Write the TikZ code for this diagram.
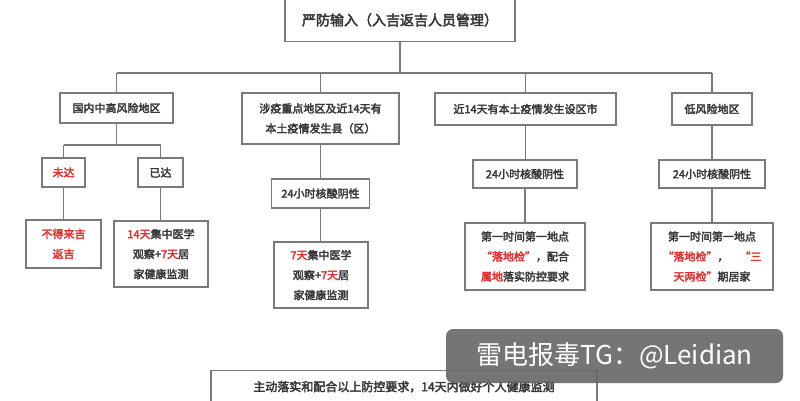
\documentclass[tikz,border=0pt]{standalone}
\usepackage{fontspec}
\setmainfont{Noto Sans CJK SC}
\newfontfamily\boxfont{Noto Sans CJK SC}[FakeBold=3]
\usetikzlibrary{calc}
\definecolor{txt}{HTML}{383838}
\definecolor{edge}{HTML}{7A7A7A}
\definecolor{hl}{HTML}{E0302F}
\definecolor{wm}{HTML}{666666}
\newcommand{\hr}[1]{\textcolor{hl}{#1}}
\begin{document}
\begin{tikzpicture}[x=1pt,y=-1pt,
  box/.style={draw=edge,line width=1.2pt,fill=white,inner sep=0pt,align=center,
    text=txt,font=\boxfont\fontsize{11}{20}\selectfont},
  conn/.style={draw=edge,line width=1.2pt}]
\useasboundingbox (0,0) rectangle (800,400);
\fill[white] (0,0) rectangle (800,400);
% nodes
\node[box,minimum width=230pt,minimum height=43pt,font=\boxfont\fontsize{14}{16}\selectfont] (top) at (400,20) {严防输入（入吉返吉人员管理）};
\node[box,minimum width=113pt,minimum height=30pt] (b1) at (116.5,108) {国内中高风险地区};
\node[box,minimum width=157pt,minimum height=51pt] (b2) at (320.5,118.5) {涉疫重点地区及近14天有\\本土疫情发生县（区）};
\node[box,minimum width=181pt,minimum height=32pt] (b3) at (525.5,109) {近14天有本土疫情发生设区市};
\node[box,minimum width=80pt,minimum height=32pt] (b4) at (712,109) {低风险地区};
\node[box,minimum width=43pt,minimum height=29pt] (n1) at (63.5,172.5) {\hr{未达}};
\node[box,minimum width=45pt,minimum height=29pt] (y1) at (160.5,172.5) {已达};
\node[box,minimum width=75pt,minimum height=48pt] (n2) at (63.5,244) {\hr{不得来吉}\\\hr{返吉}};
\node[box,minimum width=94pt,minimum height=66pt] (y2) at (161,254) {\hr{14天}集中医学\\观察+\hr{7天}居\\家健康监测};
\node[box,minimum width=98pt,minimum height=29pt] (c2a) at (320.5,193.5) {24小时核酸阴性};
\node[box,minimum width=94pt,minimum height=66pt] (c2b) at (321,275) {\hr{7天}集中医学\\观察+\hr{7天}居\\家健康监测};
\node[box,minimum width=104pt,minimum height=28pt] (c3a) at (525,174) {24小时核酸阴性};
\node[box,minimum width=120pt,minimum height=67pt] (c3b) at (525,256.5) {第一时间第一地点\\\hr{“落地检”}，配合\\\hr{属地}落实防控要求};
\node[box,minimum width=106pt,minimum height=28pt] (c4a) at (712,174) {24小时核酸阴性};
\node[box,minimum width=122pt,minimum height=67pt] (c4b) at (712,256.5) {第一时间第一地点\\\hr{“落地检”}，\hspace{1em}\hr{“三}\\\hr{天两检”}期居家};
\node[box,minimum width=386pt,minimum height=40pt,anchor=north,font=\boxfont\fontsize{12}{14}\selectfont] (bot) at (404,370) {\raisebox{9pt}{主动落实和配合以上防控要求，14天内做好个人健康监测}};
% connectors
\coordinate (hb) at (400,73);
\coordinate (hy) at (116.5,145);
\draw[conn] (top.south) -- (hb);
\draw[conn] (b1.north |- hb) -- (b4.north |- hb);
\foreach \n in {b1,b2,b3,b4} \draw[conn] (\n.north |- hb) -- (\n.north);
\draw[conn] (b1.south) -- (hy);
\draw[conn] (n1.north |- hy) -- (y1.north |- hy);
\draw[conn] (n1.north |- hy) -- (n1.north);
\draw[conn] (y1.north |- hy) -- (y1.north);
\draw[conn] (n1.south) -- (n2.north);
\draw[conn] (y1.south) -- (y1.south |- y2.north);
\draw[conn] (b2.south) -- (c2a.north);
\draw[conn] (c2a.south) -- (c2a.south |- c2b.north);
\draw[conn] (b3.south) -- (b3.south |- c3a.north);
\draw[conn] (c3a.south) -- (c3b.north);
\draw[conn] (b4.south) -- (c4a.north);
\draw[conn] (c4a.south) -- (c4b.north);
% watermark
\node[fill=wm,fill opacity=0.9,text opacity=1,rounded corners=7pt,minimum width=337pt,minimum height=54pt,inner sep=0pt,
  text=white,font=\fontsize{26}{28}\selectfont] (wm) at (614.5,356) {雷电报毒TG：@Leidian};
\end{tikzpicture}
\end{document}
